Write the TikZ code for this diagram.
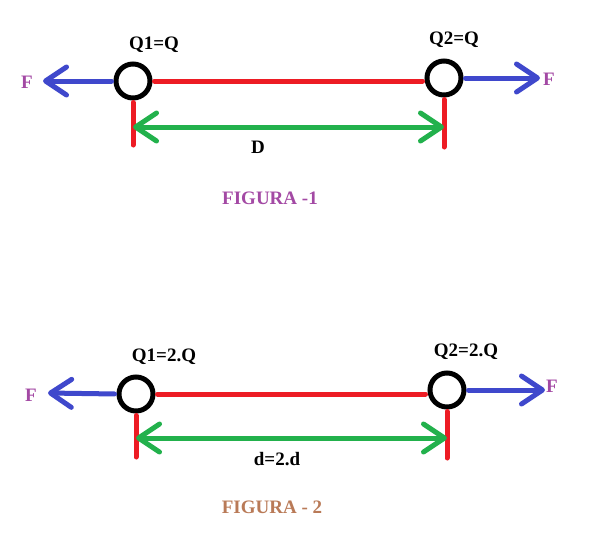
\documentclass[tikz,border=0pt]{standalone}
\usepackage{fontspec}
\setmainfont{Liberation Serif}
\usetikzlibrary{arrows.meta,positioning}
\definecolor{paintred}{RGB}{237,28,36}
\definecolor{paintblue}{RGB}{63,72,204}
\definecolor{paintgreen}{RGB}{34,177,76}
\definecolor{labelpurple}{RGB}{163,73,164}
\definecolor{labelbrown}{RGB}{185,122,87}

\begin{document}
\begin{tikzpicture}[x=1pt, y=-1pt, font=\fontsize{19}{22}\selectfont\bfseries,
	charge/.style={draw, circle, line width=5pt, minimum size=34pt, inner sep=0pt},
	rod/.style={paintred, line width=5pt, line cap=round, shorten <=2pt, shorten >=2pt},
	force/.style={paintblue, line width=5pt, line cap=round, shorten <=2pt, -{Straight Barb[length=21pt, width=28pt, round]}},
	dist/.style={paintgreen, line width=5pt, {Straight Barb[length=21pt, width=28pt, round]}-{Straight Barb[length=21pt, width=28pt, round]}},
	lbl/.style={inner sep=0pt}]
	\useasboundingbox (0,0) rectangle (604,552);
	% figura 1
	\node[charge] (q1a) at (133,81) {};
	\node[charge] (q2a) at (444,78) {};
	\node[lbl] (l1a) at (154,45) {Q1=Q};
	\node[lbl] (l2a) at (454,40) {Q2=Q};
	\node[lbl, labelpurple] (fla) at (27,82) {F};
	\node[lbl, labelpurple] (fra) at (549,79) {F};
	\node[lbl] (da) at (258,147) {D};
	\node[lbl, labelpurple] (figa) at (270,198) {FIGURA -1};
	\coordinate (tla) at (43,81);
	\coordinate (tra) at (540,78);
	\coordinate (bla) at (133,145);
	\coordinate (bra) at (444,147);
	\draw[rod] (q1a.east) -- (q1a.east -| q2a.west);
	\draw[rod, shorten >=0pt] (q1a.south) -- (bla);
	\draw[rod, shorten >=0pt] (q2a.south) -- (bra);
	\draw[force] (q1a.west) -- (tla);
	\draw[force] (q2a.east) -- (tra);
	\draw[dist] (bla |- 0,127) -- (bra |- 0,127);
	% figura 2
	\node[charge] (q1b) at (136,394) {};
	\node[charge] (q2b) at (447,390) {};
	\node[lbl] (l1b) at (164,357) {Q1=2.Q};
	\node[lbl] (l2b) at (466,352) {Q2=2.Q};
	\node[lbl, labelpurple] (flb) at (31,395) {F};
	\node[lbl, labelpurple] (frb) at (552,386) {F};
	\node[lbl] (db) at (277,459) {d=2.d};
	\node[lbl, labelbrown] (figb) at (272,507) {FIGURA - 2};
	\coordinate (tlb) at (48,393);
	\coordinate (trb) at (545,390);
	\coordinate (blb) at (136,457);
	\coordinate (brb) at (447,458);
	\draw[rod] (q1b.east) -- (q1b.east -| q2b.west);
	\draw[rod, shorten >=0pt] (q1b.south) -- (blb);
	\draw[rod, shorten >=0pt] (q2b.south) -- (brb);
	\draw[force] (q1b.west) -- (tlb);
	\draw[force] (q2b.east) -- (trb);
	\draw[dist] (blb |- 0,438) -- (brb |- 0,438);
\end{tikzpicture}
\end{document}
